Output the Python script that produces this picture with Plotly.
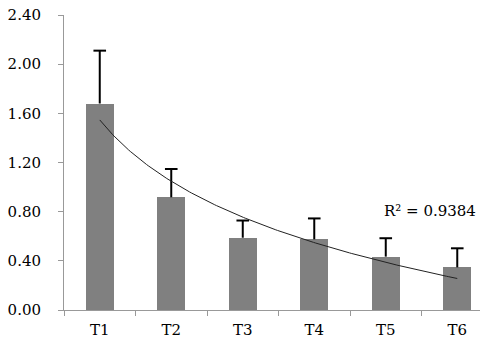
import numpy as np
import plotly.graph_objects as go

categories = ["T1", "T2", "T3", "T4", "T5", "T6"]
values = [1.68, 0.917, 0.588, 0.575, 0.434, 0.347]
errors = [0.43, 0.23, 0.14, 0.17, 0.15, 0.155]
y_ticks = [0.0, 0.4, 0.8, 1.2, 1.6, 2.0, 2.4]
r2_shown = 0.9384

x_pos = np.arange(1, len(categories) + 1)

# logarithmic trendline fitted to the bar values
a, b = np.polyfit(np.log(x_pos), values, 1)
xs = np.linspace(1, len(categories), 200)
ys = a * np.log(xs) + b

# error whiskers (upper only)
ex, ey = [], []
for xi, v, e in zip(x_pos, values, errors):
    ex += [xi, xi, None]
    ey += [v, v + e, None]
tops = [v + e for v, e in zip(values, errors)]

FONT = "DejaVu Serif"
FS = 15

fig = go.Figure()
fig.add_trace(go.Bar(
    x=x_pos, y=values, width=0.39,
    marker=dict(color="#808080", line=dict(width=0)),
    showlegend=False,
))
fig.add_trace(go.Scatter(
    x=ex, y=ey, mode="lines", line=dict(color="black", width=2),
    showlegend=False, hoverinfo="skip",
))
fig.add_trace(go.Scatter(
    x=x_pos, y=tops, mode="markers",
    marker=dict(symbol="line-ew", size=9, line=dict(color="black", width=2)),
    showlegend=False,
))
fig.add_trace(go.Scatter(
    x=xs, y=ys, mode="lines",
    line=dict(color="#222222", width=1), showlegend=False,
))
fig.add_annotation(
    x=0.995, y=0.805, xref="paper", yref="y", xanchor="right", yanchor="middle",
    text="R² = %.4f" % r2_shown, showarrow=False,
    font=dict(family=FONT, size=FS, color="black"),
)

fig.update_layout(
    width=492, height=355,
    margin=dict(l=56, r=20, t=7, b=53),
    plot_bgcolor="white", paper_bgcolor="white",
    font=dict(family=FONT, size=FS, color="black"),
    bargap=0,
)
fig.update_xaxes(
    range=[0.5, 6.318], tickmode="array", tickvals=list(x_pos), ticktext=categories,
    ticks="", showgrid=False, zeroline=False,
    showline=True, linecolor="#999999", linewidth=1,
    ticklabelstandoff=6, tickfont=dict(family=FONT, size=FS),
    automargin=False,
    minor=dict(tickmode="linear", tick0=0.5, dtick=1, ticks="outside",
               ticklen=5, tickcolor="#999999", tickwidth=1, showgrid=False),
)
fig.update_yaxes(
    range=[0, 2.4], tickmode="array", tickvals=y_ticks,
    ticktext=["%.2f" % v for v in y_ticks],
    ticks="outside", ticklen=5, tickcolor="#999999", tickwidth=1,
    showgrid=False, zeroline=False,
    showline=True, linecolor="#999999", linewidth=1,
    ticklabelstandoff=14, tickfont=dict(family=FONT, size=FS),
    ticklabeloverflow="allow", automargin=False,
)

fig.write_html("out.html")
